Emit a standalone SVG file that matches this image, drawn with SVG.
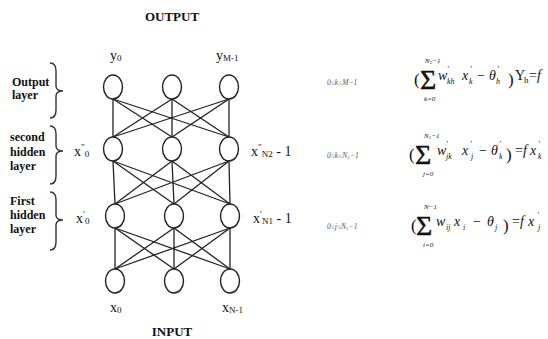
<svg xmlns="http://www.w3.org/2000/svg" width="548" height="339" viewBox="0 0 548 339">
<style>
.n{fill:#fff;stroke:#222;stroke-width:1.4}
.c line{stroke:#222;stroke-width:1.3}
.br{fill:none;stroke:#333;stroke-width:1.4}
text{font-family:"Liberation Serif","Times New Roman",serif;fill:#111}
.h{font-size:13px;font-weight:bold}
.l{font-size:12px;font-weight:bold}
.v{font-size:14px}
.s{font-size:9px}
.e{font-size:14px;font-style:italic}
.u{font-size:14px}
.sm{font-size:8px;font-style:italic}
.lim{font-size:7px;font-style:italic}
.t{font-size:7.5px;font-style:italic;fill:#555}
.sg{font-size:28px;stroke:#111;stroke-width:0.4}
.p{font-size:17px}
</style>
<rect width="548" height="339" fill="#fff"/>
<g class="c">
<line x1="113" y1="99" x2="113" y2="137"/><line x1="113" y1="99" x2="172" y2="137"/><line x1="113" y1="99" x2="229" y2="137"/>
<line x1="172" y1="99" x2="113" y2="137"/><line x1="172" y1="99" x2="172" y2="137"/><line x1="172" y1="99" x2="229" y2="137"/>
<line x1="229" y1="99" x2="113" y2="137"/><line x1="229" y1="99" x2="172" y2="137"/><line x1="229" y1="99" x2="229" y2="137"/>
<line x1="113" y1="161" x2="115" y2="204"/><line x1="113" y1="161" x2="174" y2="204"/><line x1="113" y1="161" x2="230" y2="204"/>
<line x1="172" y1="161" x2="115" y2="204"/><line x1="172" y1="161" x2="174" y2="204"/><line x1="172" y1="161" x2="230" y2="204"/>
<line x1="229" y1="161" x2="115" y2="204"/><line x1="229" y1="161" x2="174" y2="204"/><line x1="229" y1="161" x2="230" y2="204"/>
<line x1="115" y1="228" x2="115" y2="269"/><line x1="115" y1="228" x2="174" y2="269"/><line x1="115" y1="228" x2="230" y2="269"/>
<line x1="174" y1="228" x2="115" y2="269"/><line x1="174" y1="228" x2="174" y2="269"/><line x1="174" y1="228" x2="230" y2="269"/>
<line x1="230" y1="228" x2="115" y2="269"/><line x1="230" y1="228" x2="174" y2="269"/><line x1="230" y1="228" x2="230" y2="269"/>
</g>
<g id="out0"><ellipse class="n" cx="113" cy="87" rx="9.5" ry="12"/></g>
<g id="out1"><ellipse class="n" cx="172" cy="87" rx="9.5" ry="12"/></g>
<g id="out2"><ellipse class="n" cx="229" cy="87" rx="9.5" ry="12"/></g>
<g id="h2a"><ellipse class="n" cx="113" cy="149" rx="9.5" ry="12"/></g>
<g id="h2b"><ellipse class="n" cx="172" cy="149" rx="9.5" ry="12"/></g>
<g id="h2c"><ellipse class="n" cx="229" cy="149" rx="9.5" ry="12"/></g>
<g id="h1a"><ellipse class="n" cx="115" cy="216" rx="9.5" ry="12"/></g>
<g id="h1b"><ellipse class="n" cx="174" cy="216" rx="9.5" ry="12"/></g>
<g id="h1c"><ellipse class="n" cx="230" cy="216" rx="9.5" ry="12"/></g>
<g id="in0"><ellipse class="n" cx="115" cy="281" rx="9.5" ry="12"/></g>
<g id="in1"><ellipse class="n" cx="174" cy="281" rx="9.5" ry="12"/></g>
<g id="in2"><ellipse class="n" cx="230" cy="281" rx="9.5" ry="12"/></g>
<g id="braces">
<path class="br" d="M50,63 Q56,63 56,71 L56,86 Q56,91 63,91 Q56,91 56,96 L56,110 Q56,118 50,118"/>
<path class="br" d="M50,126 Q56,126 56,134 L56,146 Q56,151 63,151 Q56,151 56,156 L56,176 Q56,184 50,184"/>
<path class="br" d="M50,192 Q56,192 56,200 L56,215 Q56,220 63,220 Q56,220 56,225 L56,242 Q56,250 50,250"/>
</g>
<g id="labels">
<text class="h" x="172" y="21" text-anchor="middle">OUTPUT</text>
<text class="h" x="172" y="336" text-anchor="middle">INPUT</text>
<text class="l" x="12" y="86">Output</text>
<text class="l" x="12" y="99">layer</text>
<text class="l" x="10" y="141">second</text>
<text class="l" x="10" y="156">hidden</text>
<text class="l" x="10" y="170">layer</text>
<text class="l" x="10" y="205">First</text>
<text class="l" x="10" y="219">hidden</text>
<text class="l" x="10" y="233">layer</text>
<text class="v" x="110" y="60">y<tspan class="s" dy="1">0</tspan></text>
<text class="v" x="216" y="60">y<tspan class="s" dy="1">M-1</tspan></text>
<text class="v" x="110" y="312">x<tspan class="s" dy="1">0</tspan></text>
<text class="v" x="222" y="312">x<tspan class="s" dy="1">N-1</tspan></text>
<text class="v" x="74" y="156">x<tspan class="s" dy="-6">″</tspan><tspan class="s" dy="7">0</tspan></text>
<text class="v" x="251" y="156">x<tspan class="s" dy="-6">″</tspan><tspan class="s" dy="7">N2</tspan><tspan dy="-1"> - 1</tspan></text>
<text class="v" x="76" y="223">x<tspan class="s" dy="-6">′</tspan><tspan class="s" dy="7">0</tspan></text>
<text class="v" x="253" y="223">x<tspan class="s" dy="-6">′</tspan><tspan class="s" dy="7">N1</tspan><tspan dy="-1"> - 1</tspan></text>
</g>
<g id="eq1">
<text class="t" x="327" y="85">0≤k≤M−1</text>
<text class="p" x="414" y="85">(</text>
<text class="sg" x="420" y="89">Σ</text>
<text class="lim" x="425" y="63">N<tspan font-size="5" dy="1">2</tspan><tspan dy="-1">−1</tspan></text>
<text class="lim" x="424" y="101">k=0</text>
<text class="e" x="438" y="80">w</text><text class="sm" x="447" y="72">′</text><text class="sm" x="447" y="84">kh</text>
<text class="e" x="462" y="80">x</text><text class="sm" x="470" y="72">′</text><text class="sm" x="469" y="84">k</text>
<text class="u" x="477" y="80">−</text>
<text class="e" x="489" y="80">θ</text><text class="sm" x="497" y="72">′</text><text class="sm" x="496" y="84">h</text>
<text class="p" x="508" y="85">)</text>
<text class="u" x="515" y="80">Y</text><text class="s" x="524" y="83">h</text>
<text class="u" x="529" y="80">=</text><text class="e" x="537" y="80">f</text>
</g>
<g id="eq2">
<text class="t" x="327" y="158">0≤k≤N<tspan font-size="5" dy="1">2</tspan><tspan dy="-1">−1</tspan></text>
<text class="p" x="409" y="160">(</text>
<text class="sg" x="415" y="164">Σ</text>
<text class="lim" x="424" y="138">N<tspan font-size="5" dy="1">1</tspan><tspan dy="-1">−1</tspan></text>
<text class="lim" x="423" y="176">j=0</text>
<text class="e" x="437" y="155">w</text><text class="sm" x="446" y="147">′</text><text class="sm" x="446" y="159">jk</text>
<text class="e" x="462" y="155">x</text><text class="sm" x="470" y="147">′</text><text class="sm" x="471" y="159">j</text>
<text class="u" x="479" y="155">−</text>
<text class="e" x="491" y="155">θ</text><text class="sm" x="499" y="147">′</text><text class="sm" x="499" y="159">k</text>
<text class="p" x="506" y="160">)</text>
<text class="u" x="515" y="155">=</text><text class="e" x="523" y="155">f</text>
<text class="e" x="530" y="155">x</text><text class="sm" x="538" y="147">′</text><text class="sm" x="538" y="159">k</text>
</g>
<g id="eq3">
<text class="t" x="327" y="229">0≤j≤N<tspan font-size="5" dy="1">1</tspan><tspan dy="-1">−1</tspan></text>
<text class="p" x="411" y="231">(</text>
<text class="sg" x="416" y="235">Σ</text>
<text class="lim" x="424" y="209">N−1</text>
<text class="lim" x="423" y="247">i=0</text>
<text class="e" x="436" y="226">w</text><text class="sm" x="446" y="230">ij</text>
<text class="e" x="454" y="226">x</text><text class="sm" x="463" y="230">i</text>
<text class="u" x="473" y="226">−</text>
<text class="e" x="487" y="226">θ</text><text class="sm" x="495" y="230">j</text>
<text class="p" x="503" y="231">)</text>
<text class="u" x="512" y="226">=</text><text class="e" x="520" y="226">f</text>
<text class="e" x="528" y="226">x</text><text class="sm" x="537" y="218">′</text><text class="sm" x="538" y="230">j</text>
</g>
</svg>
